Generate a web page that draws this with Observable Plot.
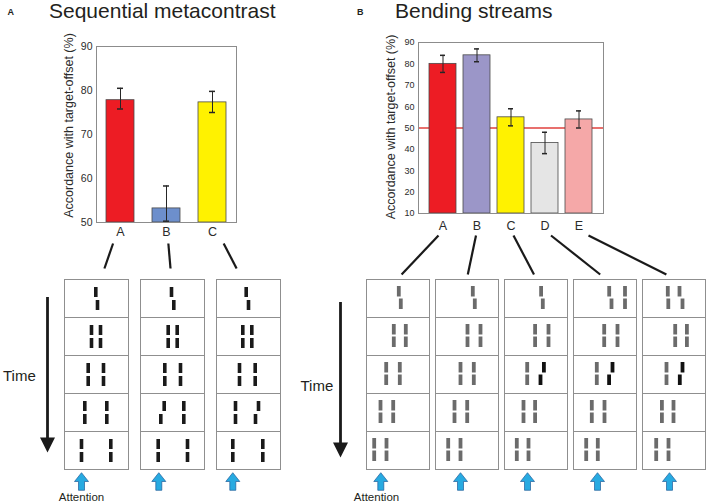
<!DOCTYPE html>
<html><head><meta charset="utf-8">
<script src="https://cdn.jsdelivr.net/npm/d3@7"></script>
<script src="https://cdn.jsdelivr.net/npm/@observablehq/plot@0.6"></script>
<style>
body{margin:0;background:#fff;}
#fig{position:relative;width:708px;height:504px;overflow:hidden;font-family:"Liberation Sans",Arial,sans-serif;color:#231f20;background:#fff;}
#fig > *{position:absolute;}
.plab{font-weight:bold;font-size:9px;line-height:9px;}
.title{font-size:21px;line-height:21px;white-space:nowrap;}
.time{font-size:15px;line-height:15px;}
</style></head><body><div id="fig"></div>
<script>
// ---------- data ----------
const yLabel = "Accordance with target-offset (%)";

const catsA = ["A", "B", "C"];
const valuesA = [77.8, 53.2, 77.3];
const errLowA = [75.8, 50.3, 75.0];
const errHighA = [80.5, 58.3, 79.8];
const colorsA = ["#ed1c24", "#6d8fcc", "#fff200"];
const ticksA = [50, 60, 70, 80, 90];

const catsB = ["A", "B", "C", "D", "E"];
const valuesB = [80, 84, 55, 43, 54];
const errLowB = [76, 81, 51, 38, 50];
const errHighB = [84, 87, 59, 48, 58];
const colorsB = ["#ed1c24", "#9b96c8", "#fff200", "#e5e5e5", "#f5a8a8"];
const ticksB = [10, 20, 30, 40, 50, 60, 70, 80, 90];
const chanceB = [50];

const frames = [1, 2, 3, 4, 5];
// stimulus elements: [condition, frame, x of upper segment, x of lower segment, offset element]
const stimA = [
  ["A",1,31.3,33],
  ["A",2,27,27],["A",2,36,36],
  ["A",3,23.7,23.7],["A",3,39,39],
  ["A",4,20.3,20.3],["A",4,42.3,42.3],
  ["A",5,17,17],["A",5,46.3,46.3],
  ["B",1,31,33.3],
  ["B",2,27.7,27.7],["B",2,36.7,36.7],
  ["B",3,24.3,24.3],["B",3,40,40],
  ["B",4,23.7,20.3,1],["B",4,43.3,43.3],
  ["B",5,17.7,17.7],["B",5,47,47],
  ["C",1,29.7,32],
  ["C",2,26.3,26.3],["C",2,35.3,35.3],
  ["C",3,23,23],["C",3,38.7,38.7],
  ["C",4,19,19],["C",4,42,39,1],
  ["C",5,16.3,16.3],["C",5,46.3,46.3]
];
const stimB = [
  ["A",1,32.3,34.3],["A",2,27.3,27.3],["A",2,39.3,39.3],["A",3,19.7,19.7],["A",3,33.3,33.3],
  ["A",4,14,14],["A",4,26.7,26.7],["A",5,7.7,7.7],["A",5,20,20],
  ["B",1,37.3,39.3],["B",2,32,32],["B",2,45,45],["B",3,25,25],["B",3,38.3,38.3],
  ["B",4,19,19],["B",4,31.7,31.7],["B",5,12.7,12.7],["B",5,25,25],
  ["C",1,36.6,38.3],["C",2,30.6,30.6],["C",2,44,44],["C",3,22.7,22.7],["C",3,39.4,36,1],
  ["C",4,19,19],["C",4,30.6,30.6],["C",5,12.3,12.3],["C",5,24,24],
  ["D",1,35.7,38],["D",1,51.5,51.5],["D",2,30.7,30.7],["D",2,44,44],["D",3,23.3,23.3],["D",3,39,35.6,1],
  ["D",4,18.3,18.3],["D",4,31,31],["D",5,12.7,12.7],["D",5,24.3,24.3],
  ["E",1,25.3,25.8],["E",1,37,40],["E",2,32.7,32.7],["E",2,44.4,44.4],["E",3,24,24],["E",3,40,37.3,1],
  ["E",4,19.4,19.4],["E",4,31,31],["E",5,13.7,13.7],["E",5,26,26]
];
// attention cue position (within the last frame)
const attentionA = [["A",17],["B",18.3],["C",16.3]];
const attentionB = [["A",14.3],["B",25],["C",23],["D",24],["E",27]];
const attentionLabel = "Attention";

// ---------- layout helpers ----------
const fig = document.getElementById("fig");
const FONT = "Liberation Sans, Arial, Helvetica, sans-serif";
function place(el, left, top) { el.style.left = left + "px"; el.style.top = top + "px"; fig.appendChild(el); return el; }
function html(cls, text, left, top) { const d = document.createElement("div"); d.className = cls; d.textContent = text; return place(d, left, top); }

function barChart({cats, values, lo, hi, colors, ticks, base, chance, width, height, margins, pad, tickFont, catPad, labelDy}) {
  const table = cats.map((c, i) => ({cat: c, v: values[i], lo: lo[i], hi: hi[i]}));
  return Plot.plot({
    width, height, ...margins,
    style: {fontFamily: FONT, color: "#2b2b2b", background: "transparent", overflow: "visible"},
    x: {domain: cats, paddingInner: pad[0], paddingOuter: pad[1]},
    y: {domain: [ticks[0], ticks[ticks.length - 1]]},
    color: {domain: cats, range: colors},
    marks: [
      chance ? Plot.ruleY(chance, {stroke: "#e0403c", strokeWidth: 1.5}) : null,
      Plot.barY(table, {x: "cat", y1: base, y2: "v", fill: "cat", stroke: "#4a4a4a", strokeWidth: 0.8}),
      Plot.ruleX(table, {x: "cat", y1: "lo", y2: "hi", stroke: "#262626", strokeWidth: 1}),
      Plot.tickY(table, {x: "cat", y: "hi", stroke: "#262626", strokeWidth: 1.5, insetLeft: 11, insetRight: 11}),
      Plot.tickY(table, {x: "cat", y: "lo", stroke: "#262626", strokeWidth: 1.5, insetLeft: 11, insetRight: 11}),
      Plot.frame({stroke: "#8c8c8c", strokeWidth: 1}),
      Plot.axisY({ticks, tickSize: 0, tickPadding: 4, fontSize: tickFont, label: null}),
      Plot.axisX({tickSize: 0, tickPadding: catPad, fontSize: 12.5, label: null}),
      Plot.text([yLabel], {text: d => d, frameAnchor: "left", textAnchor: "middle", lineAnchor: "middle",
        rotate: -90, dx: -28, dy: labelDy, fontSize: 12.5, fill: "#2b2b2b"})
    ]
  });
}

const blockArrow = {draw(ctx, size) {
  const s = Math.sqrt(size / Math.PI) / 8.8;
  ctx.moveTo(0, -8.8 * s); ctx.lineTo(7 * s, 0); ctx.lineTo(3 * s, 0); ctx.lineTo(3 * s, 8.8 * s);
  ctx.lineTo(-3 * s, 8.8 * s); ctx.lineTo(-3 * s, 0); ctx.lineTo(-7 * s, 0); ctx.closePath();
}};
const downTriangle = {draw(ctx, size) {
  const s = Math.sqrt(size / Math.PI) / 15;
  ctx.moveTo(-7.5 * s, -15 * s); ctx.lineTo(7.5 * s, -15 * s); ctx.lineTo(0, 0); ctx.closePath();
}};

function schematic({cats, stim, attention, seg, width, height, margins, padInner, frameW, barColor, darkColor, barW, textX}) {
  const segs = stim.flatMap(([c, t, xu, xl, off]) => [
    {c, t, x: xu, y1: seg.u[0], y2: seg.u[1], off: !!off},
    {c, t, x: xl, y1: seg.l[0], y2: seg.l[1], off: !!off}
  ]);
  const att = attention.map(([c, x]) => ({c, t: frames[frames.length - 1], x}));
  const lab = [{c: cats[0], t: frames[frames.length - 1], x: textX, s: attentionLabel}];
  return Plot.plot({
    width, height, ...margins,
    style: {fontFamily: FONT, color: "#231f20", background: "transparent", overflow: "visible"},
    fx: {domain: cats, paddingInner: padInner, paddingOuter: 0, axis: null},
    fy: {domain: frames, padding: 0, axis: null},
    x: {domain: [0, frameW], axis: null},
    y: {domain: [0, 38], reverse: true, axis: null},
    marks: [
      Plot.frame({stroke: "#8f8f8f", strokeWidth: 1}),
      Plot.ruleX(segs, {fx: "c", fy: "t", x: "x", y1: "y1", y2: "y2", strokeWidth: barW,
        stroke: d => d.off ? darkColor : barColor}),
      Plot.dot(att, {fx: "c", fy: "t", x: "x", y: 50, r: 8.8, symbol: blockArrow,
        fill: "#27aae1", stroke: "#1f5d99", strokeWidth: 0.7}),
      Plot.text(lab, {fx: "c", fy: "t", x: "x", y: 66.3, text: "s", fontSize: 11.5, fill: "#231f20"})
    ]
  });
}

// ---------- panel A ----------
const chartA = barChart({
  cats: catsA, values: valuesA, lo: errLowA, hi: errHighA, colors: colorsA, ticks: ticksA, base: 50,
  width: 250, height: 210, margins: {marginLeft: 96, marginRight: 14, marginTop: 16, marginBottom: 18},
  pad: [0.391, 0.217], tickFont: 10.5, catPad: 5, labelDy: -9
});
const chartALeft = 0, chartATop = 30;
place(chartA, chartALeft, chartATop);

const schemA = schematic({
  cats: catsA, stim: stimA, attention: attentionA, seg: {u: [8, 18], l: [21, 31]},
  width: 219, height: 234, margins: {marginLeft: 1, marginRight: 1, marginTop: 8, marginBottom: 35},
  padInner: 0.158, frameW: 64, barColor: "#1a1a1a", darkColor: "#1a1a1a", barW: 3.6, textX: 17
});
const schemALeft = 62, schemATop = 270;
place(schemA, schemALeft, schemATop);

// ---------- panel B ----------
const chartB = barChart({
  cats: catsB, values: valuesB, lo: errLowB, hi: errHighB, colors: colorsB, ticks: ticksB, base: 10, chance: chanceB,
  width: 280, height: 215, margins: {marginLeft: 78, marginRight: 17, marginTop: 17, marginBottom: 27},
  pad: [0.198, 0.30], tickFont: 9, catPad: 7.5, labelDy: -1
});
const chartBLeft = 340, chartBTop = 25;
place(chartB, chartBLeft, chartBTop);

const schemB = schematic({
  cats: catsB, stim: stimB, attention: attentionB, seg: {u: [7, 17.5], l: [19.5, 30]},
  width: 343, height: 234, margins: {marginLeft: 1, marginRight: 1, marginTop: 9, marginBottom: 35},
  padInner: 0.0935, frameW: 63, barColor: "#6b6b6b", darkColor: "#111111", barW: 3.8, textX: 10
});
const schemBLeft = 364, schemBTop = 270;
place(schemB, schemBLeft, schemBTop);

// ---------- overlay: connectors and time arrows ----------
function center(plot, name, cat, left) {
  const sc = plot.scale(name);
  return left + sc.apply(cat) + sc.bandwidth / 2;
}
function bandStart(plot, name, cat, left) { return left + plot.scale(name).apply(cat); }
const lerp = (a, b, t) => a + (b - a) * t;

function connectors(cats, chart, cl, schem, sl, y0, y1, t0, t1) {
  return cats.map(c => {
    const a = center(chart, "x", c, cl), b = center(schem, "fx", c, sl);
    return {x1: lerp(a, b, t0), y1: y0, x2: lerp(a, b, t1), y2: y1};
  });
}
const links = [
  ...connectors(catsA, chartA, chartALeft, schemA, schemALeft, 243, 268, 0.31, 0.67),
  ...connectors(catsB, chartB, chartBLeft, schemB, schemBLeft, 235, 274, 0.1, 0.92)
];
const topA = schemATop + 8, botA = schemATop + 234 - 35;
const topB = schemBTop + 9, botB = schemBTop + 234 - 35;
const timeArrows = [
  {x: bandStart(schemA, "fx", catsA[0], schemALeft) - 17, y1: topA + 19, y2: botA - 17},
  {x: bandStart(schemB, "fx", catsB[0], schemBLeft) - 26, y1: topB + 23, y2: botB - 12}
];
const overlay = Plot.plot({
  width: 708, height: 504, margin: 0,
  style: {background: "transparent", overflow: "visible"},
  x: {domain: [0, 708], range: [0, 708], axis: null},
  y: {domain: [0, 504], range: [0, 504], axis: null},
  marks: [
    Plot.link(links, {x1: "x1", y1: "y1", x2: "x2", y2: "y2", stroke: "#1a1a1a", strokeWidth: 2.2}),
    Plot.ruleX(timeArrows, {x: "x", y1: "y1", y2: d => d.y2 - 12, stroke: "#1a1a1a", strokeWidth: 2.8}),
    Plot.dot(timeArrows, {x: "x", y: "y2", r: 15, symbol: downTriangle, fill: "#1a1a1a", stroke: "none"})
  ]
});
place(overlay, 0, 0);

// ---------- texts ----------
html("plab", "A", 7.5, 7.7);
html("title", "Sequential metacontrast", 49, -0.5);
html("plab", "B", 357, 7.7);
html("title", "Bending streams", 395, -0.5);
html("time", "Time", 3, 368.3);
html("time", "Time", 300.5, 378.3);
</script></body></html>
